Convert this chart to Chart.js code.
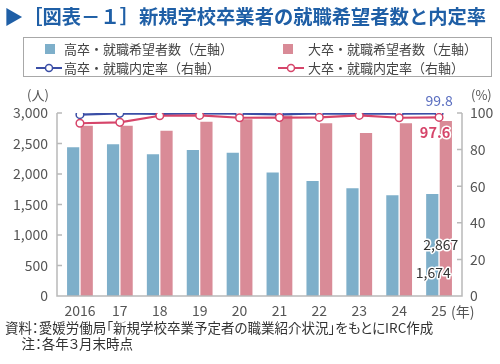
<!DOCTYPE html>
<html><head><meta charset="utf-8">
<script src="https://cdn.jsdelivr.net/npm/chart.js@4"></script>
<style>
html,body{margin:0;padding:0;background:#fff}
body{width:500px;height:364px;position:relative;overflow:hidden;font-family:"Noto Sans CJK JP","Noto Sans",sans-serif}
#c{position:absolute;left:0;top:0}
.t{position:absolute;white-space:nowrap}
#title{left:4px;top:2px;font-size:19.3px;font-weight:bold;color:#1f5fa6;line-height:28px}
#legend{position:absolute;left:23px;top:37px;width:469px;height:40px;border:1px solid #a8a8a8;box-sizing:border-box}
.lt{position:absolute;font-size:13px;color:#444;line-height:16px;white-space:nowrap}
.sq{position:absolute;width:10px;height:10px}
.unit{font-size:13px;color:#555;line-height:16px}
#foot{left:5px;top:319px;font-size:13.5px;color:#333;line-height:16px;font-feature-settings:"palt"}
</style></head>
<body>
<canvas id="c" width="500" height="364"></canvas>
<div class="t" id="title">▶［図表－１］新規学校卒業者の就職希望者数と内定率</div>
<div id="legend">
  <div class="sq" style="left:21px;top:6px;background:#7eafca"></div>
  <div class="lt" style="left:40px;top:3px">高卒・就職希望者数（左軸）</div>
  <div class="sq" style="left:259px;top:6px;background:#d98b97"></div>
  <div class="lt" style="left:284px;top:3px">大卒・就職希望者数（左軸）</div>
  <svg style="position:absolute;left:11px;top:25px" width="28" height="10"><line x1="1" y1="5" x2="27" y2="5" stroke="#3a4ea6" stroke-width="2"/><circle cx="14" cy="5" r="3.5" fill="#fff" stroke="#3a4ea6" stroke-width="1.5"/></svg>
  <div class="lt" style="left:40px;top:22px">高卒・就職内定率（右軸）</div>
  <svg style="position:absolute;left:253px;top:25px" width="28" height="10"><line x1="1" y1="5" x2="27" y2="5" stroke="#d6456a" stroke-width="2"/><circle cx="14" cy="5" r="3.5" fill="#fff" stroke="#d6456a" stroke-width="1.5"/></svg>
  <div class="lt" style="left:284px;top:22px">大卒・就職内定率（右軸）</div>
</div>
<div class="t unit" style="left:27px;top:87px">(人)</div>
<div class="t unit" style="left:471px;top:87px">(%)</div>
<div class="t unit" style="left:451px;top:303px;font-size:14px">(年)</div>
<div class="t" id="foot">資料：愛媛労働局「新規学校卒業予定者の職業紹介状況」をもとにIRC作成<br>　 注：各年３月末時点</div>
<script>
const categories = ["2016","17","18","19","20","21","22","23","24","25"];
const hsApplicants = [2438, 2487, 2323, 2393, 2349, 2025, 1885, 1765, 1651, 1674];
const univApplicants = [2792, 2792, 2710, 2857, 2897, 2960, 2831, 2672, 2831, 2867];
const hsRate = [99.1, 99.8, 99.5, 99.8, 99.7, 99.2, 99.8, 99.6, 99.7, 99.8];
const univRate = [94.4, 94.9, 98.5, 98.7, 97.4, 97.5, 97.6, 98.7, 97.4, 97.6];
const leftTicks = [0, 500, 1000, 1500, 2000, 2500, 3000];
const rightTicks = [0, 20, 40, 60, 80, 100];

const AX = '#b9b9b9';
const axesPlugin = {
  id: 'axesPlugin',
  afterDraw(chart) {
    const ctx = chart.ctx, a = chart.chartArea;
    const yl = chart.scales.y, yr = chart.scales.y2;
    const L = a.left - 3, R = a.right + 3;
    ctx.save();
    ctx.strokeStyle = AX; ctx.lineWidth = 1.5;
    ctx.beginPath();
    ctx.moveTo(L, a.top); ctx.lineTo(L, a.bottom); ctx.lineTo(R, a.bottom); ctx.lineTo(R, a.top);
    yl.ticks.forEach(t => { const y = yl.getPixelForValue(t.value); ctx.moveTo(L, y); ctx.lineTo(L + 5, y); });
    yr.ticks.forEach(t => { const y = yr.getPixelForValue(t.value); ctx.moveTo(R, y); ctx.lineTo(R - 5, y); });
    ctx.stroke();
    ctx.restore();
  },
  afterDatasetsDraw(chart) {
    const ctx = chart.ctx, a = chart.chartArea;
    const n = categories.length - 1;
    const pHs = chart.getDatasetMeta(2).data[n];
    const pUn = chart.getDatasetMeta(3).data[n];
    const bHs = chart.getDatasetMeta(0).data[n];
    const bUn = chart.getDatasetMeta(1).data[n];
    function txt(s, x, y, color, font) {
      ctx.font = font; ctx.textAlign = 'center'; ctx.textBaseline = 'middle';
      ctx.lineJoin = 'round'; ctx.strokeStyle = '#fff'; ctx.lineWidth = 3;
      ctx.strokeText(s, x, y); ctx.fillStyle = color; ctx.fillText(s, x, y);
    }
    ctx.save();
    txt(hsRate[n].toFixed(1), pHs.x, pHs.y - 13, '#5a6ec0', '14px "Noto Sans CJK JP"');
    txt(univRate[n].toFixed(1), pUn.x - 4, pUn.y + 15, '#d6456a', 'bold 14.5px "Noto Sans CJK JP"');
    txt(univApplicants[n].toLocaleString('en-US'), bUn.x - 5, a.bottom - 51, '#333', '14px "Noto Sans CJK JP"');
    txt(hsApplicants[n].toLocaleString('en-US'), bHs.x + 1, a.bottom - 23, '#333', '14px "Noto Sans CJK JP"');
    ctx.restore();
  }
};

const tickFont = {family: '"Noto Sans CJK JP"', size: 14};
new Chart(document.getElementById('c'), {
  data: {
    labels: categories,
    datasets: [
      {type:'bar', label:'高卒・就職希望者数（左軸）', data: hsApplicants, backgroundColor:'#7eafca', yAxisID:'y', order:2, barPercentage:0.9, categoryPercentage:0.68},
      {type:'bar', label:'大卒・就職希望者数（左軸）', data: univApplicants, backgroundColor:'#d98b97', yAxisID:'y', order:3, barPercentage:0.9, categoryPercentage:0.68},
      {type:'line', label:'高卒・就職内定率（右軸）', data: hsRate, borderColor:'#3a4ea6', borderWidth:2.2, pointRadius:3.8, pointBorderWidth:1.5, pointBackgroundColor:'#fff', pointBorderColor:'#3a4ea6', yAxisID:'y2', order:1, tension:0},
      {type:'line', label:'大卒・就職内定率（右軸）', data: univRate, borderColor:'#d6456a', borderWidth:2.2, pointRadius:3.8, pointBorderWidth:1.5, pointBackgroundColor:'#fff', pointBorderColor:'#d6456a', yAxisID:'y2', order:0, tension:0}
    ]
  },
  options: {
    responsive:false, animation:false, devicePixelRatio:1,
    layout:{padding:{top:113, left:0, right:0, bottom:0}},
    plugins:{legend:{display:false}, tooltip:{enabled:false}},
    scales:{
      x:{grid:{display:false, drawTicks:false}, border:{display:false},
         ticks:{color:'#555', font:tickFont, padding:6, autoSkip:false, maxRotation:0},
         afterFit(s){ s.height = 68; }},
      y:{position:'left', min:0, max:3000, afterBuildTicks(s){ s.ticks = leftTicks.map(v=>({value:v})); },
         grid:{display:false, drawTicks:false}, border:{display:false},
         ticks:{color:'#555', font:tickFont, padding:12, callback:v=>v.toLocaleString('en-US')},
         afterFit(s){ s.width = 60; }},
      y2:{position:'right', min:0, max:100, afterBuildTicks(s){ s.ticks = rightTicks.map(v=>({value:v})); },
         grid:{display:false, drawTicks:false}, border:{display:false},
         ticks:{color:'#555', font:tickFont, padding:11},
         afterFit(s){ s.width = 41; }}
    }
  },
  plugins:[axesPlugin]
});
</script>
</body></html>
